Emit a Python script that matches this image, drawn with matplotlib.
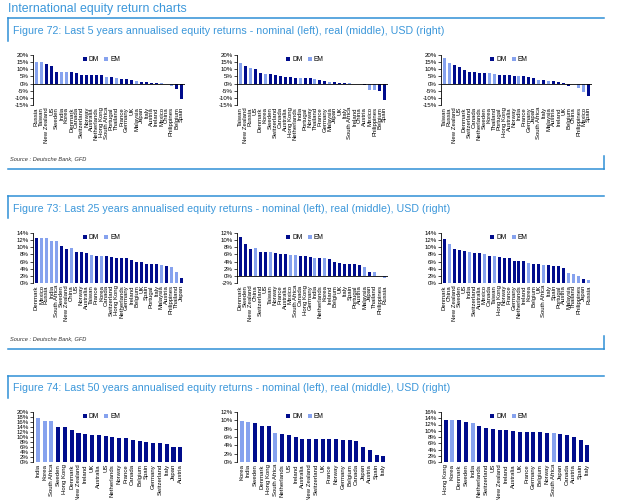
import matplotlib
matplotlib.use("Agg")
import matplotlib.pyplot as plt
from matplotlib.lines import Line2D
import numpy as np

plt.rcParams['font.family'] = ['Liberation Sans', 'DejaVu Sans']

W, H = 627, 500
DM_COL = '#000c8c'
EM_COL = '#86a2ee'
BLUE = '#2f8fd6'
TXT_BLUE = '#3b97da'

EM = ["Russia", "Taiwan", "India", "Korea", "South Africa", "Thailand",
      "Malaysia", "Mexico", "China", "Philippines"]

# Figure 72: last 5 years
nom5_countries = ["Russia", "Taiwan", "New Zealand", "US", "Sweden", "India", "Korea", "Denmark",
                  "Canada", "Switzerland", "Norway", "Australia", "Netherlands", "Hong Kong",
                  "South Africa", "Portugal", "Thailand", "France", "Germany", "UK", "Malaysia",
                  "Japan", "Italy", "Austria", "Ireland", "Mexico", "China", "Philippines",
                  "Belgium", "Spain"]
nom5_values = [15.1, 15.0, 13.4, 12.0, 8.4, 8.1, 8.0, 7.9, 7.4, 6.3, 6.2, 6.1, 6.0, 5.9,
               4.4, 4.3, 3.6, 3.4, 3.1, 2.3, 1.9, 1.2, 1.0, 0.3, 0.2, 0.1, -0.4, -1.5,
               -3.6, -10.5]

real5_countries = ["Taiwan", "New Zealand", "Russia", "US", "Denmark", "Korea", "Sweden",
                   "Switzerland", "Canada", "Australia", "Hong Kong", "Netherlands", "India",
                   "Portugal", "Norway", "Thailand", "France", "Germany", "Malaysia", "Japan",
                   "UK", "Italy", "South Africa", "Ireland", "China", "Austria", "Mexico",
                   "Philippines", "Belgium", "Spain"]
real5_values = [14.5, 12.0, 11.0, 9.9, 7.2, 7.0, 6.8, 6.1, 5.5, 4.9, 4.8, 4.1, 3.9, 3.7, 3.6,
                2.9, 2.2, 1.8, 1.2, 1.0, 0.6, 0.4, 0.1, -0.2, -0.5, -0.8, -4.5, -4.6, -5.3,
                -11.2]

usd5_countries = ["Taiwan", "Russia", "New Zealand", "US", "Denmark", "Switzerland", "Canada",
                  "Netherlands", "Sweden", "Korea", "Thailand", "Portugal", "Hong Kong",
                  "Australia", "Norway", "India", "France", "Germany", "Japan", "South Africa",
                  "Italy", "Malaysia", "Austria", "Ireland", "UK", "Belgium", "China",
                  "Philippines", "Mexico", "Spain"]
usd5_values = [18.0, 14.7, 12.7, 11.9, 9.8, 8.2, 8.0, 7.7, 7.6, 7.5, 6.7, 6.2, 6.0, 5.8, 5.5,
               5.4, 5.2, 4.8, 4.1, 2.7, 2.4, 1.9, 1.7, 1.0, 0.3, -2.0, -0.6, -2.9, -5.8, -8.9]

# Figure 73: last 25 years
nom25_countries = ["Denmark", "Mexico", "Russia", "India", "South Africa", "Sweden",
                   "New Zealand", "China", "US", "Norway", "Australia", "Taiwan", "France",
                   "Korea", "Canada", "Switzerland", "Hong Kong", "Netherlands", "Germany",
                   "Ireland", "Belgium", "UK", "Spain", "Portugal", "Italy", "Malaysia",
                   "Austria", "Philippines", "Thailand", "Japan"]
nom25_values = [12.7, 12.6, 12.5, 11.9, 11.8, 10.4, 9.5, 9.9, 8.8, 8.7, 8.4, 7.8, 7.6, 7.6,
                7.6, 7.3, 7.1, 6.9, 6.9, 6.4, 5.9, 5.9, 5.4, 5.2, 5.2, 5.0, 4.8, 4.6, 3.2, 1.4]

real25_countries = ["Denmark", "Sweden", "New Zealand", "China", "Switzerland", "US", "Taiwan",
                    "Norway", "France", "Australia", "Mexico", "South Africa", "Canada",
                    "Hong Kong", "Germany", "India", "Netherlands", "Korea", "Ireland",
                    "Belgium", "UK", "Italy", "Spain", "Portugal", "Austria", "Malaysia",
                    "Japan", "Thailand", "Philippines", "Russia"]
real25_values = [11.0, 9.0, 7.5, 7.7, 6.7, 6.6, 6.8, 6.5, 6.0, 6.0, 5.8, 5.8, 5.5, 5.5, 5.3,
                 5.1, 4.9, 4.9, 4.7, 3.9, 3.6, 3.3, 3.3, 3.2, 3.0, 2.6, 1.1, 1.0, 0.05, -0.5]

usd25_countries = ["Denmark", "China", "New Zealand", "Sweden", "US", "India", "Switzerland",
                   "Australia", "Mexico", "Canada", "Taiwan", "Hong Kong", "Norway", "France",
                   "Germany", "Netherlands", "Ireland", "Korea", "Belgium", "UK",
                   "South Africa", "Italy", "Spain", "Portugal", "Austria", "Malaysia",
                   "Thailand", "Philippines", "Japan", "Russia"]
usd25_values = [12.2, 10.8, 9.6, 9.2, 8.9, 8.6, 8.4, 8.3, 8.1, 7.6, 7.6, 7.2, 7.1, 7.1, 6.3,
                6.3, 6.1, 5.7, 5.2, 5.2, 5.1, 5.1, 4.8, 4.7, 4.2, 2.9, 2.4, 2.1, 1.2, 0.8]

# Figure 74: last 50 years
nom50_countries = ["India", "Korea", "South Africa", "Sweden", "Hong Kong", "Denmark",
                   "New Zealand", "Ireland", "UK", "Australia", "US", "Netherlands", "Norway",
                   "France", "Canada", "Belgium", "Spain", "Germany", "Switzerland", "Italy",
                   "Japan", "Austria"]
nom50_values = [17.8, 16.5, 16.5, 14.0, 14.0, 13.0, 11.5, 11.3, 10.9, 10.7, 10.4, 9.9, 9.7,
                9.5, 8.9, 8.5, 8.1, 7.7, 7.5, 7.3, 6.0, 6.0]

real50_countries = ["Korea", "India", "Sweden", "Denmark", "Hong Kong", "South Africa",
                    "Netherlands", "US", "Ireland", "Australia", "New Zealand", "Switzerland",
                    "UK", "France", "Norway", "Germany", "Belgium", "Canada", "Japan", "Austria",
                    "Spain", "Italy"]
real50_values = [9.8, 9.5, 9.3, 8.6, 8.6, 7.0, 6.7, 6.5, 5.9, 5.6, 5.6, 5.6, 5.5, 5.5, 5.5,
                 5.3, 5.2, 5.1, 3.7, 3.0, 1.8, 1.4]

usd50_countries = ["Hong Kong", "Korea", "Denmark", "Sweden", "India", "Netherlands",
                   "Switzerland", "US", "New Zealand", "Ireland", "Australia", "UK", "France",
                   "Germany", "Belgium", "Norway", "South Africa", "Japan", "Canada", "Austria",
                   "Spain", "Italy"]
usd50_values = [13.5, 13.5, 13.3, 12.9, 12.6, 11.5, 11.0, 10.5, 10.2, 10.2, 9.8, 9.6, 9.6,
                9.5, 9.5, 9.4, 9.4, 8.9, 8.5, 8.0, 6.9, 5.3]

fig_titles = ["Figure 72: Last 5 years annualised equity returns - nominal (left), real (middle), USD (right)",
              "Figure 73: Last 25 years annualised equity returns - nominal (left), real (middle), USD (right)",
              "Figure 74: Last 50 years annualised equity returns - nominal (left), real (middle), USD (right)"]


def fx(x):
    return x / W


def fy(y):
    return 1 - y / H


def hline(fig, y, x0, x1):
    fig.add_artist(Line2D([fx(x0), fx(x1)], [fy(y), fy(y)], color=BLUE, lw=1.1))


def vline(fig, x, y0, y1):
    fig.add_artist(Line2D([fx(x), fx(x)], [fy(y0), fy(y1)], color=BLUE, lw=1.1))


def bar_chart(fig, box, countries, values, ylim, step):
    left, top, right, bottom = box
    ax = fig.add_axes([fx(left), fy(bottom), fx(right - left), (bottom - top) / H])
    n = len(countries)
    x = np.arange(n)
    cols = [EM_COL if c in EM else DM_COL for c in countries]
    ax.bar(x, values, width=0.6, color=cols, zorder=2)
    ax.bar([0], [0], color=DM_COL, label='DM')
    ax.bar([0], [0], color=EM_COL, label='EM')
    ax.set_xlim(-0.7, n - 0.3)
    ax.set_ylim(*ylim)
    ticks = np.arange(ylim[0], ylim[1] + 0.1, step)
    ax.set_yticks(ticks)
    ax.set_yticklabels(["%d%%" % t for t in ticks])
    ax.set_xticks(x)
    ax.set_xticklabels(countries, rotation=90, fontsize=4.3)
    ax.tick_params(axis='x', length=0, pad=1.5)
    ax.tick_params(axis='y', labelsize=4.4, length=2, width=0.5, pad=1)
    for s in ['top', 'right', 'bottom']:
        ax.spines[s].set_visible(False)
    ax.spines['left'].set_linewidth(0.6)
    ax.axhline(0, color='black', lw=0.6, zorder=3)
    ax.legend(loc='upper center', bbox_to_anchor=(0.45, 1.06), ncol=2, frameon=False,
              fontsize=4.8, handlelength=0.6, handleheight=0.6, handletextpad=0.3,
              columnspacing=0.8, borderpad=0.1)
    return ax


fig = plt.figure(figsize=(W / 100, H / 100), dpi=100)

fig.text(fx(8), fy(9), "International equity return charts", fontsize=8.9,
         color=TXT_BLUE, va='center', ha='left')

# frames around each figure block
hline(fig, 18, 8, 604)
vline(fig, 8, 18, 41)
fig.text(fx(13), fy(31), fig_titles[0], fontsize=7.7, color=TXT_BLUE, va='center')
fig.text(fx(10), fy(159), "Source : Deutsche Bank, GFD", fontsize=4.1, style='italic',
         color='#333333', va='center')
hline(fig, 169, 8, 604)
vline(fig, 604, 156, 169)

hline(fig, 196, 8, 604)
vline(fig, 8, 196, 218)
fig.text(fx(13), fy(209), fig_titles[1], fontsize=7.7, color=TXT_BLUE, va='center')
fig.text(fx(10), fy(339), "Source : Deutsche Bank, GFD", fontsize=4.1, style='italic',
         color='#333333', va='center')
hline(fig, 349, 8, 604)
vline(fig, 604, 336, 349)

hline(fig, 376, 8, 604)
vline(fig, 8, 376, 398)
fig.text(fx(13), fy(388), fig_titles[2], fontsize=7.7, color=TXT_BLUE, va='center')

cols_px = [(33, 185), (237, 388), (441, 592)]

row1 = [(nom5_countries, nom5_values, (-15, 20), 5),
        (real5_countries, real5_values, (-15, 20), 5),
        (usd5_countries, usd5_values, (-15, 20), 5)]
row2 = [(nom25_countries, nom25_values, (0, 14), 2),
        (real25_countries, real25_values, (-2, 12), 2),
        (usd25_countries, usd25_values, (0, 14), 2)]
row3 = [(nom50_countries, nom50_values, (0, 20), 2),
        (real50_countries, real50_values, (0, 12), 2),
        (usd50_countries, usd50_values, (0, 16), 2)]

for row, (top, bottom) in zip([row1, row2, row3], [(55, 105), (233, 283), (412, 462)]):
    for (c, v, yl, st), (l, r) in zip(row, cols_px):
        bar_chart(fig, (l, top, r, bottom), c, v, yl, st)

fig.savefig("out.png", dpi=100)
